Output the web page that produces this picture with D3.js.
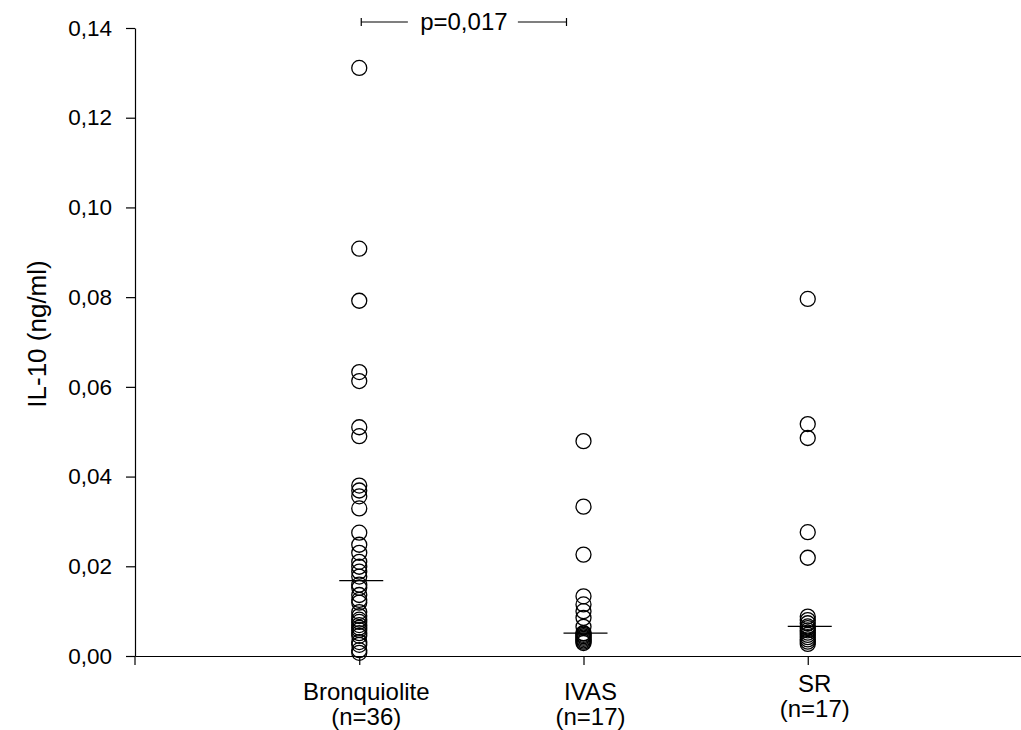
<!DOCTYPE html>
<html>
<head>
<meta charset="utf-8">
<script src="https://cdn.jsdelivr.net/npm/d3@7"></script>
<style>
  html, body { margin: 0; padding: 0; background: #fff; }
  svg { display: block; font-family: "Liberation Sans", Arial, Helvetica, sans-serif; }
</style>
</head>
<body>
<div id="chart"></div>
<script>
// ---- data ----
const categories = ["Bronquiolite", "IVAS", "SR"];
const sampleLabels = ["(n=36)", "(n=17)", "(n=17)"];
const bronquioliteValues = [
  0.1311, 0.0908, 0.0792, 0.0633, 0.0613, 0.0510, 0.0490, 0.0380, 0.0369,
  0.0356, 0.0329, 0.0275, 0.0248, 0.0230, 0.0210, 0.0199, 0.0188, 0.0177,
  0.0159, 0.0152, 0.0136, 0.0125, 0.0119, 0.0098, 0.0089, 0.0081, 0.0076,
  0.0069, 0.0063, 0.0058, 0.0051, 0.0045, 0.0031, 0.0025, 0.0013, 0.0007
];
const ivasValues = [
  0.0479, 0.0333, 0.0226, 0.0133, 0.0115, 0.0100, 0.0085, 0.0065, 0.0051,
  0.0050, 0.0047, 0.0044, 0.0041, 0.0038, 0.0035, 0.0032, 0.0029
];
const srValues = [
  0.0796, 0.0517, 0.0486, 0.0276, 0.0219, 0.0088, 0.0080, 0.0073, 0.0066,
  0.0062, 0.0057, 0.0052, 0.0047, 0.0042, 0.0037, 0.0032, 0.0027
];
const seriesValues = [bronquioliteValues, ivasValues, srValues];
const yTicks = [0, 0.02, 0.04, 0.06, 0.08, 0.10, 0.12, 0.14];
const yDomain = [0, 0.14];
const yTitle = "IL-10 (ng/ml)";
const pLabel = "p=0,017";

// ---- layout ----
const W = 1021, H = 730;
const plotLeft = 135, plotTop = 28, plotBottom = 656;

const svg = d3.select("#chart").append("svg")
  .attr("width", W).attr("height", H);

const x = d3.scalePoint().domain(categories).range([plotLeft, 1032]).padding(1);
const y = d3.scaleLinear().domain(yDomain).range([plotBottom, plotTop]);

const fmt = v => d3.format(".2f")(v).replace(".", ",");

// y axis
const yAxis = svg.append("g")
  .attr("transform", `translate(${plotLeft},0)`)
  .call(d3.axisLeft(y).tickValues(yTicks).tickFormat(fmt).tickSize(9).tickSizeOuter(0).tickPadding(14));
yAxis.selectAll("text").attr("font-size", 22.5).attr("fill", "#000")
  .attr("font-family", '"Liberation Sans", Arial, sans-serif');
yAxis.selectAll("line, path").attr("stroke", "#000").attr("stroke-width", 1.2);
// small extension of y axis below the x axis
svg.append("line")
  .attr("x1", plotLeft).attr("x2", plotLeft)
  .attr("y1", y(0)).attr("y2", y(0) + 9)
  .attr("stroke", "#000").attr("stroke-width", 1.2);

// x axis
const xAxis = svg.append("g")
  .attr("transform", `translate(0,${y(0)})`)
  .call(d3.axisBottom(x).tickSize(9).tickSizeOuter(0).tickFormat(""));
xAxis.selectAll("line, path").attr("stroke", "#000").attr("stroke-width", 1.2);

// x labels (two lines)
const labelYOffsets = [0, 0, -8];
categories.forEach((c, i) => {
  const t = svg.append("text")
    .attr("x", x(c) + 7)
    .attr("y", y(0) + 44 + labelYOffsets[i])
    .attr("text-anchor", "middle")
    .attr("font-size", 24)
    .attr("fill", "#000");
  t.append("tspan").attr("x", x(c) + 7).text(c);
  t.append("tspan").attr("x", x(c) + 7).attr("dy", 25).text(sampleLabels[i]);
});

// y title
svg.append("text")
  .attr("transform", `translate(46,${(plotTop + plotBottom) / 2 - 8}) rotate(-90)`)
  .attr("text-anchor", "middle")
  .attr("font-size", 26)
  .attr("fill", "#000")
  .text(yTitle);

// points
categories.forEach((c, i) => {
  svg.append("g").selectAll("circle")
    .data(seriesValues[i])
    .join("circle")
    .attr("cx", x(c))
    .attr("cy", d => y(d))
    .attr("r", 7.5)
    .attr("fill", "none")
    .attr("stroke", "#000")
    .attr("stroke-width", 1.3);
  // median line
  const m = d3.median(seriesValues[i]);
  svg.append("line")
    .attr("x1", x(c) - 20).attr("x2", x(c) + 24)
    .attr("y1", y(m)).attr("y2", y(m))
    .attr("stroke", "#000").attr("stroke-width", 1.3);
});

// significance bracket
const bx1 = x(categories[0]) + 2, bx2 = x(categories[1]) - 17;
const by = 22;
const bmid = (bx1 + bx2) / 2;
const g = svg.append("g").attr("stroke", "#000").attr("stroke-width", 1.2);
g.append("line").attr("x1", bx1).attr("x2", bmid - 56).attr("y1", by).attr("y2", by);
g.append("line").attr("x1", bmid + 54).attr("x2", bx2).attr("y1", by).attr("y2", by);
g.append("line").attr("x1", bx1).attr("x2", bx1).attr("y1", by - 4).attr("y2", by + 4);
g.append("line").attr("x1", bx2).attr("x2", bx2).attr("y1", by - 4).attr("y2", by + 4);
svg.append("text")
  .attr("x", bmid)
  .attr("y", 30)
  .attr("text-anchor", "middle")
  .attr("font-size", 24)
  .attr("fill", "#000")
  .text(pLabel);
</script>
</body>
</html>
